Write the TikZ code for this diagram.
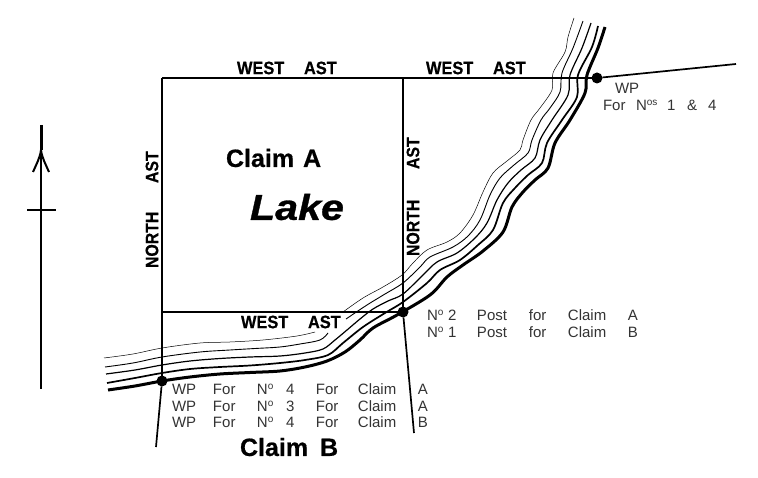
\documentclass[tikz,border=0pt]{standalone}
\usepackage{fontspec}
\setmainfont[BoldFeatures={FakeBold=0.6},BoldItalicFeatures={FakeBold=0.8}]{Liberation Sans}
\newcommand{\Nno}{N\raisebox{4.5pt}{\fontsize{10}{10}\selectfont o}}
\newcommand{\Nnos}{N\raisebox{4.5pt}{\fontsize{10}{10}\selectfont os}}
\newcommand{\cell}[2]{\makebox[#1pt][l]{#2}}
\tikzset{
  every node/.style={inner sep=0pt,outer sep=0pt},
  boldlab/.style={font=\fontsize{18}{18}\selectfont\bfseries,anchor=west,xscale=.91},
  boldup/.style={font=\fontsize{18}{18}\selectfont\bfseries,anchor=west,rotate=90,xscale=.88},
  bigtext/.style={font=\fontsize{25}{25}\selectfont\bfseries,anchor=west},
  thinlabel/.style={font=\fontsize{15}{15}\selectfont,text=black!80,anchor=west},
  boundary/.style={line width=1.5pt,black},
  post/.style={circle,fill=black,minimum size=11pt},
  riv/.style={smooth,tension=.55},
}
\begin{document}
\begin{tikzpicture}[x=1pt,y=-1pt]
\useasboundingbox (0,0) rectangle (758,478);
% river
\draw[line width=.5pt] plot[riv] coordinates {(104,358)(133,354)(162,348)(200,343)(230,342)(263,340)(297,336)(315,332)};
\draw[line width=.5pt] plot[riv] coordinates {(343,312)(363,298)(383,287)(402,275)(413,263)(427,250)(447,242)(460,233)(473,215)(483,192)(493,173)(507,161)(520,150)(523,140)(531,120)(540,108)(552,90)(553,73)(565,52)(568,37)(574,18)};
\draw[line width=.9pt] plot[riv] coordinates {(105,367)(133,363)(162,357)(200,352)(230,350)(255,348.5)(280,347)(300,344)(320,340)(328,333)};
\draw[line width=.9pt] plot[riv] coordinates {(346,319)(367,305)(385,294)(403,283)(420,267)(430,257)(453,247)(468,236)(480,220)(490,195)(500,178)(514,165)(528,153)(532,140)(541,120)(550,108)(560,92)(562,73)(573,48)(583,21)};
\draw[line width=1.2pt] plot[riv] coordinates {(106,374)(135,370)(162,365)(190,361)(220,358.5)(250,357)(280,356)(305,353)(323,349)(335,340)(347,330)(360,319)(373,309)(388,301)(403,294)(423,275)(437,262)(457,253)(475,238)(487,223)(497,200)(508,183)(521,170)(535,158)(540,140)(552,120)(568,95)(570,75)(582,48)(591,23)};
\draw[line width=1.7pt] plot[riv] coordinates {(107,383)(135,378)(162,373)(190,369)(220,367)(250,365.5)(280,363)(305,360)(328,355)(343,343)(363,327)(385,313)(403,302)(427,283)(440,270)(460,260)(478,245)(493,230)(503,203)(515,188)(528,175)(542,163)(547,143)(562,120)(577,97)(578,75)(592,47)(598,26)};
\draw[line width=3pt] plot[riv] coordinates {(108,390)(135,386)(162,381)(190,377)(220,374)(250,372.5)(280,371)(305,367)(327,361)(345,352)(360,340)(373,328)(397,315)(430,295)(447,277)(463,265)(483,251)(503,232)(512,207)(523,192)(535,180)(548,168)(555,143)(570,120)(585,93)(587,75)(598,48)(605,27)};
% posts
\node[post] (p1) at (597,78) {};
\node[post] (p2) at (403,312) {};
\node[post] (p3) at (162,381) {};
\coordinate (tl) at (162,78);
\coordinate (tm) at (403,78);
\coordinate (ml) at (162,312);
\coordinate (e1) at (736,64);
\coordinate (e2) at (414,433);
\coordinate (e3) at (156,447);
\draw[boundary] (tl) -- (p1.center);
\draw[boundary] (tl) -- (p3.center);
\draw[boundary] (tm) -- (p2.center);
\draw[boundary] (ml) -- (p2.center);
\draw[line width=1.7pt] (p1) -- (e1);
\draw[line width=1.7pt] (p2) -- (e2);
\draw[line width=1.7pt] (p3) -- (e3);
% north arrow
\coordinate (nt) at (41,125);
\coordinate (nb) at (41,389);
\coordinate (nf) at (41,150);
\coordinate (cl) at (27,210);
\coordinate (cr) at (56,210);
\coordinate (bl) at (33,172);
\coordinate (br) at (49,172);
\draw[line width=1.7pt] (nt) -- (nb);
\draw[line width=1.7pt] (cl) -- (cr);
\draw[line width=2pt] (bl) .. controls (36,165) and (40,158) .. (nf) .. controls (42,158) and (46,165) .. (br);
\draw[line width=3pt] (nt) -- (nf);
% bold labels
\node[boldlab] (w1) at (237,68) {WEST};
\node[boldlab] (a1) at (304,68) {AST};
\node[boldlab] (w2) at (426,68) {WEST};
\node[boldlab] (a2) at (493,68) {AST};
\node[boldlab] (w3) at (241,322) {WEST};
\node[boldlab] (a3) at (308,322) {AST};
\node[boldup] (n1) at (152,268) {NORTH};
\node[boldup] (a4) at (152,183) {AST};
\node[boldup] (n2) at (413,256) {NORTH};
\node[boldup] (a5) at (413,169) {AST};
\node[bigtext] (ca) at (226,158) {Claim\hspace{9pt}A};
\node[bigtext] (cb) at (240,447) {Claim\hspace{12pt}B};
\node[anchor=west,font=\fontsize{36}{36}\selectfont\bfseries\itshape,xscale=1.145] (lake) at (250,207) {Lake};
% thin labels
\node[thinlabel] (t1) at (615,88) {WP};
\node[thinlabel] (t2) at (603,105) {\cell{33}{For}\cell{31}{\Nnos}\cell{20}{1}\cell{21}{\&}4};
\node[thinlabel] (t3) at (427,315) {\cell{21}{\Nno}\cell{29}{2}\cell{52}{Post}\cell{39}{for}\cell{60}{Claim}A};
\node[thinlabel] (t4) at (427,332) {\cell{21}{\Nno}\cell{29}{1}\cell{52}{Post}\cell{39}{for}\cell{60}{Claim}B};
\node[thinlabel] (t5) at (172,389) {\cell{41}{WP}\cell{44}{For}\cell{29}{\Nno}\cell{30}{4}\cell{42}{For}\cell{60}{Claim}A};
\node[thinlabel] (t6) at (172,406) {\cell{41}{WP}\cell{44}{For}\cell{29}{\Nno}\cell{30}{3}\cell{42}{For}\cell{60}{Claim}A};
\node[thinlabel] (t7) at (172,422) {\cell{41}{WP}\cell{44}{For}\cell{29}{\Nno}\cell{30}{4}\cell{42}{For}\cell{60}{Claim}B};
\end{tikzpicture}
\end{document}
